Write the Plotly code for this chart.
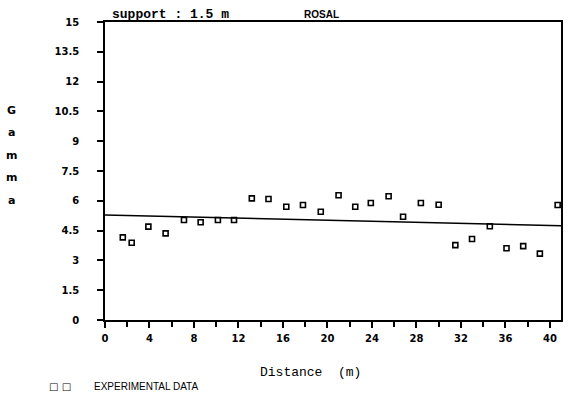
import plotly.graph_objects as go

# Experimental semivariogram
distance = [1.6, 2.4, 3.9, 5.45, 7.1, 8.6, 10.15, 11.6, 13.2, 14.7, 16.3, 17.8, 19.4,
            21.0, 22.5, 23.9, 25.5, 26.8, 28.4, 30.0, 31.5, 33.0, 34.6, 36.1, 37.6, 39.1, 40.7]
gamma = [4.16, 3.89, 4.70, 4.36, 5.03, 4.92, 5.03, 5.03, 6.12, 6.09, 5.70, 5.79, 5.45,
         6.28, 5.70, 5.89, 6.23, 5.20, 5.89, 5.80, 3.77, 4.08, 4.72, 3.61, 3.72, 3.34, 5.79]

# Model line (as seen in picture)
model_distance = [0, 41]
model_gamma = [5.28, 4.75]

x_ticks = [0, 4, 8, 12, 16, 20, 24, 28, 32, 36, 40]
y_ticks = [0, 1.5, 3, 4.5, 6, 7.5, 9, 10.5, 12, 13.5, 15]
y_ticktext = ["0", "1.5", "3", "4.5", "6", "7.5", "9", "10.5", "12", "13.5", "15"]

W, H = 568, 396
L, R, T, B = 105, 5, 22, 76
PW, PH = W - L - R, H - T - B

def px(xp):
    return (xp - L) / PW

def py(yp):
    return (H - B - yp) / PH

fig = go.Figure()
fig.add_trace(go.Scatter(x=model_distance, y=model_gamma, mode="lines",
                         line=dict(color="black", width=1.5), showlegend=False, hoverinfo="skip"))
fig.add_trace(go.Scatter(x=distance, y=gamma, mode="markers", name="EXPERIMENTAL DATA",
                         marker=dict(symbol="square-open", size=5, color="black",
                                     line=dict(width=1.6, color="black")),
                         cliponaxis=False, showlegend=False))

tickfont = dict(family="DejaVu Sans", size=10, color="black", weight="bold")

fig.update_xaxes(range=[0, 41], tickvals=x_ticks, ticks="outside", ticklen=6, tickwidth=1.5,
                 tickcolor="black", showline=True, linecolor="black", linewidth=1.5, mirror=True,
                 showgrid=False, zeroline=False, tickfont=tickfont, ticklabelstandoff=2,
                 minor=dict(dtick=2, tick0=0, ticks="outside", ticklen=5, tickwidth=1.5,
                            tickcolor="black", showgrid=False))
fig.update_yaxes(range=[0, 15], tickvals=y_ticks, ticktext=y_ticktext, ticks="outside", ticklen=6,
                 tickwidth=1.5, tickcolor="black", showline=True, linecolor="black", linewidth=1.5,
                 mirror=True, showgrid=False, zeroline=False, tickfont=tickfont,
                 ticklabelposition="outside", ticklabelstandoff=16)

annotations = []
mono = dict(family="Liberation Mono", size=13, color="black")
annotations.append(dict(text="support : 1.5 m", x=px(110), y=py(14), xref="paper", yref="paper",
                        xanchor="left", yanchor="middle", showarrow=False,
                        font=dict(family="Liberation Mono", size=13, color="black", weight="bold")))
annotations.append(dict(text="ROSAL", x=px(303), y=py(14), xref="paper", yref="paper",
                        xanchor="left", yanchor="middle", showarrow=False,
                        font=dict(family="Liberation Sans", size=10, color="black", weight="bold")))
annotations.append(dict(text="Distance  (m)", x=px(311), y=py(372), xref="paper", yref="paper",
                        xanchor="center", yanchor="middle", showarrow=False, font=mono))
for i, ch in enumerate("Gamma"):
    annotations.append(dict(text=ch, x=px(11), y=py(110 + 22.5 * i), xref="paper", yref="paper",
                            xanchor="center", yanchor="middle", showarrow=False,
                            font=dict(family="DejaVu Sans", size=11, color="black", weight="bold")))
annotations.append(dict(text="\u25a1 \u25a1", x=px(60), y=py(386), xref="paper", yref="paper",
                        xanchor="center", yanchor="middle", showarrow=False,
                        font=dict(family="DejaVu Sans", size=10, color="black")))
annotations.append(dict(text="EXPERIMENTAL DATA", x=px(92), y=py(386), xref="paper", yref="paper",
                        xanchor="left", yanchor="middle", showarrow=False,
                        font=dict(family="Liberation Sans", size=10, color="black")))

fig.update_layout(width=W, height=H, margin=dict(l=L, r=R, t=T, b=B),
                  paper_bgcolor="white", plot_bgcolor="white", annotations=annotations,
                  showlegend=False)

fig.write_html("out.html")
